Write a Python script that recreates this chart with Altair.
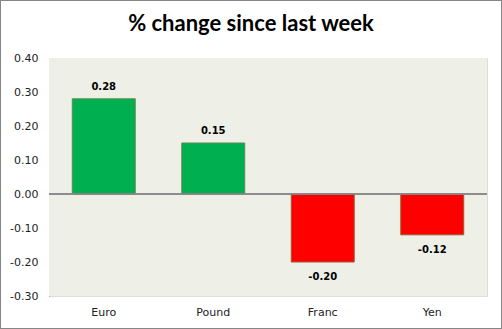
import altair as alt
import pandas as pd

title_text = "% change since last week"
categories = ["Euro", "Pound", "Franc", "Yen"]
values = [0.28, 0.15, -0.20, -0.12]
labels = ["0.28", "0.15", "-0.20", "-0.12"]
y_ticks = [-0.3, -0.2, -0.1, 0, 0.1, 0.2, 0.3, 0.4]

df = pd.DataFrame({"cat": categories, "val": values, "lab": labels})
df["pos"] = df["val"] >= 0
df["zero"] = 0.0

W, H = 438, 238

xscale = alt.Scale(domain=categories, paddingInner=0.425, paddingOuter=0.2125)
xaxis = alt.Axis(labelAngle=0, ticks=False, domain=False, labelPadding=10,
                 labelFont="DejaVu Sans", labelFontSize=11, labelColor="#222")
yscale = alt.Scale(domain=[-0.3, 0.4], nice=False, zero=False)
yaxis = alt.Axis(values=y_ticks,
                 labelExpr="replace(format(datum.value, '.2f'), '\u2212', '-')",
                 labelOverlap=False, labelBound=False, labelFlush=False,
                 grid=False, ticks=False, domain=True, domainColor="#868686",
                 labelPadding=11, labelFont="DejaVu Sans", labelFontSize=11,
                 labelColor="#222")

x = alt.X("cat:N", sort=categories, title=None, scale=xscale, axis=xaxis)
y = alt.Y("val:Q", title=None, scale=yscale, axis=yaxis)
yz = alt.Y("zero:Q", title=None, scale=yscale, axis=yaxis)

color = alt.Color("pos:N", legend=None,
                  scale=alt.Scale(domain=[True, False], range=["#00B050", "#FF0000"]))
stroke = alt.Stroke("pos:N", legend=None,
                    scale=alt.Scale(domain=[True, False], range=["#5E8A4E", "#9C5A2E"]))

base = alt.Chart(df)

bg = base.mark_rect(fill="#EEF0E8", stroke=None).encode(
    x=alt.value(0), x2=alt.value(W), y=alt.value(0), y2=alt.value(H))

bars = base.mark_bar(strokeWidth=1).encode(x=x, y=y, y2="zero:Q",
                                           color=color, stroke=stroke)

zero = base.mark_rule(color="#868686", strokeWidth=1).encode(
    y=yz, x=alt.value(0), x2=alt.value(W))

lab_pos = base.transform_filter("datum.val >= 0").mark_text(
    font="DejaVu Sans", fontWeight="bold", fontSize=10, dy=-12, color="#000"
).encode(x=x, y=y, text="lab:N")
lab_neg = base.transform_filter("datum.val < 0").mark_text(
    font="DejaVu Sans", fontWeight="bold", fontSize=10, dy=15, color="#000"
).encode(x=x, y=y, text="lab:N")

title = alt.Chart(pd.DataFrame({"t": [title_text]})).mark_text(
    font="Lato", fontSize=22, fontWeight="bold", color="#000",
    align="center", baseline="alphabetic", clip=False
).encode(x=alt.value(W / 2 - 17), y=alt.value(-27), text="t:N")

frame = base.mark_rect(fill=None, stroke="#868686", strokeWidth=1, clip=False).encode(
    x=alt.value(-48.5), x2=alt.value(W + 14.5), y=alt.value(-57.5), y2=alt.value(H + 32.5))

chart = alt.layer(bg, bars, zero, lab_pos, lab_neg, title, frame).properties(
    width=W, height=H,
    autosize=alt.AutoSizeParams(type="none"),
    padding={"left": 49, "top": 58, "right": 15, "bottom": 33},
).configure_view(strokeWidth=0).configure(background="white")

chart.save("out.html", embed_options={"renderer": "svg", "actions": False})
